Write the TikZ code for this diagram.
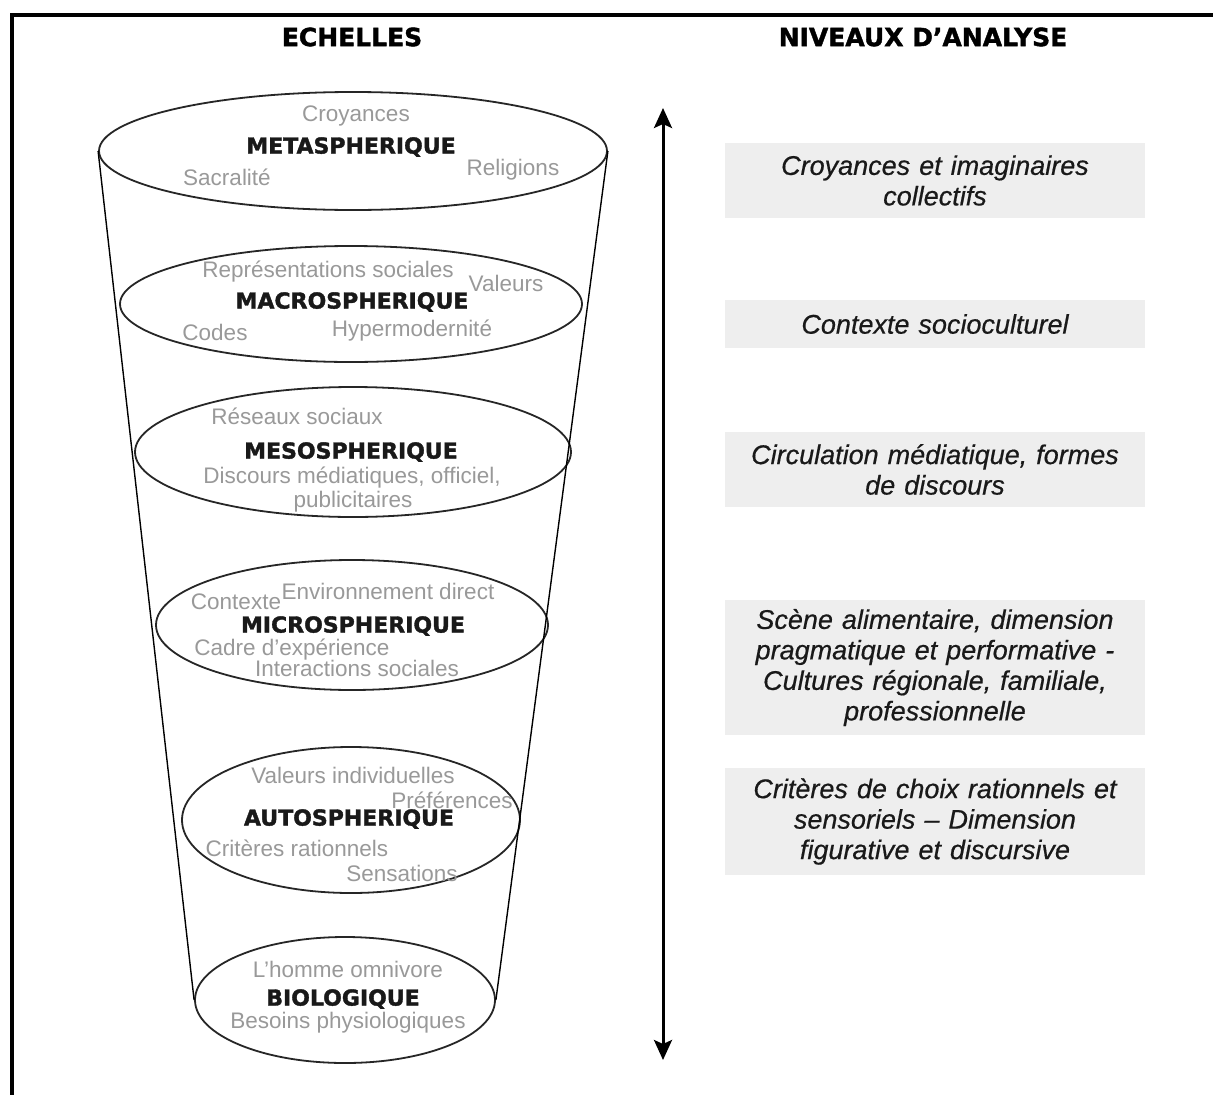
\documentclass[tikz,border=0pt]{standalone}
\usepackage{fontspec}
\setmainfont{Liberation Sans}
\newfontfamily\dvs{DejaVu Sans}[BoldFeatures={FakeBold=1.6}]
\newfontfamily\boxfont{Liberation Sans}[ItalicFeatures={FakeBold=0.5}]
\usetikzlibrary{shapes.geometric,arrows.meta}
\definecolor{kwgray}{gray}{0.6}
\definecolor{boxgray}{gray}{0.935}
\begin{document}
\begin{tikzpicture}[x=1pt,y=-1pt,
  sphere/.style={draw=black!85,line width=1.8pt,ellipse,inner sep=0pt},
  lvl/.style={font=\dvs\bfseries\fontsize{22}{26}\selectfont,text=black!90,inner sep=0pt},
  kw/.style={font=\fontsize{22.5}{26}\selectfont,text=kwgray,inner sep=0pt},
  head/.style={font=\dvs\bfseries\fontsize{25}{30}\selectfont,inner sep=0pt},
  niveau/.style={fill=boxgray,minimum width=420pt,text width=415pt,align=center,
    font=\boxfont\itshape\fontsize{27}{30.5}\selectfont,text=black!90,inner sep=0pt},
  cone/.style={line width=1.4pt,black},
  axis/.style={line width=3pt,{Stealth[length=20pt,width=18pt,inset=4pt]}-{Stealth[length=20pt,width=18pt,inset=4pt]}}
]
\useasboundingbox (0,0) rectangle (1213,1095);
\fill[white] (0,0) rectangle (1213,1095);
\draw[line width=4pt] (1213,15) -- (12,15) -- (12,1095);

% headings
\node[head] (h1) at (352,37) {ECHELLES};
\node[head] (h2) at (923,37) {NIVEAUX D’ANALYSE};

% spheres
\node[sphere,minimum width=508pt,minimum height=118pt] (meta) at (353,151) {};
\node[sphere,minimum width=462pt,minimum height=116pt] (macro) at (351,304) {};
\node[sphere,minimum width=436pt,minimum height=130pt] (meso) at (353,452) {};
\node[sphere,minimum width=392pt,minimum height=130pt] (micro) at (352,625) {};
\node[sphere,minimum width=338pt,minimum height=146pt] (auto) at (351,820) {};
\node[sphere,minimum width=300pt,minimum height=126pt] (bio) at (345,1000) {};

% cone
\draw[cone] (meta.west) -- (bio.west);
\draw[cone] (meta.east) -- (bio.east);

% level labels
\node[lvl] (tmeta) at (351,147) {METASPHERIQUE};
\node[lvl] (tmacro) at (352,302) {MACROSPHERIQUE};
\node[lvl] (tmeso) at (351,452) {MESOSPHERIQUE};
\node[lvl] (tmicro) at (353,626) {MICROSPHERIQUE};
\node[lvl] (tauto) at (349,819) {AUTOSPHERIQUE};
\node[lvl] (tbio) at (343,999) {BIOLOGIQUE};

% keywords
\node[kw] (k1) at (356,116) {Croyances};
\node[kw] (k2) at (227,177) {Sacralité};
\node[kw] (k3) at (513,170) {Religions};
\node[kw] (k4) at (328,272) {Représentations sociales};
\node[kw] (k5) at (506,283) {Valeurs};
\node[kw] (k6) at (215,332) {Codes};
\node[kw] (k7) at (412,331) {Hypermodernité};
\node[kw] (k8) at (297,416) {Réseaux sociaux};
\node[kw] (k9) at (352,478) {Discours médiatiques, officiel,};
\node[kw] (k10) at (353,502) {publicitaires};
\node[kw] (k11) at (236,602) {Contexte};
\node[kw] (k12) at (388,591) {Environnement direct};
\node[kw] (k13) at (292,650) {Cadre d’expérience};
\node[kw] (k14) at (357,668) {Interactions sociales};
\node[kw] (k15) at (353,775) {Valeurs individuelles};
\node[kw] (k16) at (452,800) {Préférences};
\node[kw] (k17) at (297,848) {Critères rationnels};
\node[kw] (k18) at (402,873) {Sensations};
\node[kw] (k19) at (348,969) {L’homme omnivore};
\node[kw] (k20) at (348,1023) {Besoins physiologiques};

% axis arrow
\coordinate (atop) at (663,108);
\coordinate (abot) at (663,1060);
\draw[axis] (atop) -- (abot);

% levels of analysis
\node[niveau,minimum height=75pt] (n1) at (935,180.5) {Croyances et imaginaires\\collectifs};
\node[niveau,minimum height=48pt] (n2) at (935,324) {Contexte socioculturel};
\node[niveau,minimum height=75pt] (n3) at (935,469.5) {Circulation médiatique, formes\\de discours};
\node[niveau,minimum height=135pt] (n4) at (935,667.5) {Scène alimentaire, dimension\\pragmatique et performative -\\Cultures régionale, familiale,\\professionnelle};
\node[niveau,minimum height=107pt] (n5) at (935,821.5) {Critères de choix rationnels et\\sensoriels – Dimension\\figurative et discursive};
\end{tikzpicture}
\end{document}
